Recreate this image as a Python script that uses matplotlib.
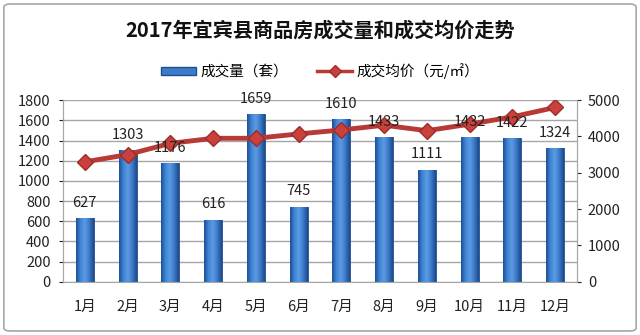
import matplotlib.pyplot as plt
import numpy as np
from matplotlib.colors import LinearSegmentedColormap
from matplotlib.lines import Line2D
from matplotlib.patches import FancyBboxPatch, Patch

plt.rcParams["font.family"] = ["Noto Sans CJK SC", "DejaVu Sans"]

months = ["1月", "2月", "3月", "4月", "5月", "6月", "7月", "8月", "9月", "10月", "11月", "12月"]
volume = [627, 1303, 1176, 616, 1659, 745, 1610, 1433, 1111, 1432, 1422, 1324]
price = [3300, 3500, 3810, 3950, 3950, 4070, 4180, 4310, 4160, 4340, 4540, 4800]

fig = plt.figure(figsize=(6.4, 3.35), dpi=100)
ax = fig.add_axes([0.099, 0.159, 0.802, 0.542])
ax2 = ax.twinx()

x = np.arange(len(months))
bars = ax.bar(x, volume, width=0.42, color="#3C7BCB", edgecolor="#1F4E8C",
              linewidth=0.6, zorder=2)

# bar shading, dark at the edges and lighter towards the middle
shade = LinearSegmentedColormap.from_list(
    "shade", ["#1E4F95", "#3F86D6", "#5C9BE3", "#3A78C6", "#1D4A8A"])
grad = np.linspace(0, 1, 64).reshape(1, -1)
for b in bars:
    x0, y0 = b.get_x(), b.get_y()
    im = ax.imshow(grad, cmap=shade, aspect="auto", zorder=2.1,
                   extent=(x0, x0 + b.get_width(), y0, y0 + b.get_height()))
    im.set_clip_path(b)

ax.set_xlim(-0.5, len(months) - 0.5)
ax.set_ylim(0, 1800)
ax.set_yticks(range(0, 1801, 200))
ax.set_xticks(x)
ax.set_xticklabels(months)
ax.grid(axis="y", color="#A6A6A6", linewidth=1, zorder=0)
ax.set_axisbelow(True)
ax.tick_params(axis="x", length=0, pad=13, labelsize=10.5, colors="#222222")
ax.tick_params(axis="y", length=3, pad=6, labelsize=10.5, colors="#222222")

ax2.plot(x, price, color="#B83A36", linewidth=3.5, marker="D", markersize=8,
         markerfacecolor="#C9413C", markeredgecolor="#9E2B28", zorder=3)
ax2.set_ylim(0, 5000)
ax2.set_yticks(range(0, 5001, 1000))
ax2.tick_params(axis="y", length=3, pad=5, labelsize=10.5, colors="#222222")

for a in (ax, ax2):
    for side in ("top", "bottom"):
        a.spines[side].set_visible(False)
    for side in ("left", "right"):
        a.spines[side].set_color("#A6A6A6")
ax.spines["bottom"].set_visible(True)
ax.spines["bottom"].set_color("#A6A6A6")

# data labels above the bars, drawn over the line
for i, v in enumerate(volume):
    ax2.annotate(str(v), xy=(i, v), xycoords=ax.transData, xytext=(0, 11),
                 textcoords="offset points", ha="center", va="center",
                 fontsize=10.5, color="#222222", zorder=5)

fig.text(0.5, 0.91, "2017年宜宾县商品房成交量和成交均价走势", ha="center", va="center",
         fontsize=14.5, fontweight="bold", color="#111111")

handles = [Patch(facecolor="#3C7BCB", edgecolor="#1F4E8C"),
           Line2D([], [], color="#B83A36", linewidth=2.5, marker="D",
                  markersize=6, markerfacecolor="#C9413C", markeredgecolor="#9E2B28")]
fig.legend(handles, ["成交量（套）", "成交均价（元/㎡）"], loc="center",
           bbox_to_anchor=(0.5, 0.788), ncol=2, frameon=False, fontsize=10.5,
           handlelength=2.4, handleheight=0.5, columnspacing=2.0, handletextpad=0.3)

fig.patches.append(FancyBboxPatch((0.006, 0.012), 0.988, 0.976,
                                  boxstyle="round,pad=0,rounding_size=0.01",
                                  transform=fig.transFigure, facecolor="none",
                                  edgecolor="#A6A6A6", linewidth=1.2))

fig.savefig("out.png", dpi=100)
